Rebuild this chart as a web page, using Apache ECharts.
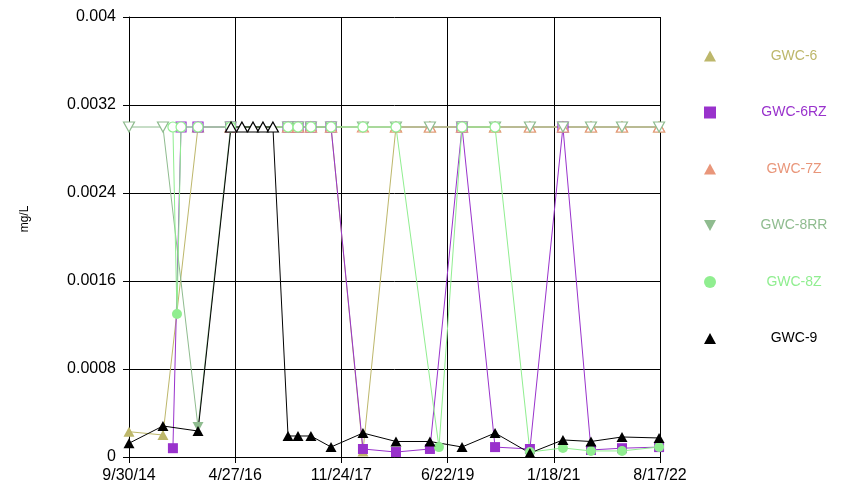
<!DOCTYPE html>
<html><head><meta charset="utf-8">
<script src="https://cdn.jsdelivr.net/npm/echarts@6.0.0/dist/echarts.min.js"></script>
<style>html,body{margin:0;padding:0;background:#fff}#c{width:852px;height:491px}</style>
</head><body><div id="c"></div>
<script>
// Axis definitions
const xStartDate = '2014-09-30';
const xEndDate = '2022-08-17';
const xTickCount = 5;
const yTicks = [0, 0.0008, 0.0016, 0.0024, 0.0032, 0.004];

// Series data (mg/L); 0.003 values plotted as open markers (non-detects)
const gwc6Dates = ['2014-09-30','2015-04-02','2015-10-09','2016-04-03','2017-02-08','2017-04-03','2017-06-12','2017-09-29','2018-03-21','2018-09-16','2019-03-19','2019-09-09','2020-03-06','2020-09-11','2021-03-09','2021-08-08','2022-01-23','2022-08-12'];
const gwc6Values = [0.00023,0.0002,0.003,0.003,0.003,0.003,0.003,0.003,0.00005,0.003,0.003,0.003,0.003,0.003,0.003,0.003,0.003,0.003];

const gwc6rzDates = ['2015-05-26','2015-07-09','2015-10-09','2016-04-03','2017-02-08','2017-04-03','2017-06-12','2017-09-29','2018-03-21','2018-09-16','2019-03-19','2019-09-09','2020-03-06','2020-09-11','2021-03-09','2021-08-08','2022-01-23','2022-08-12'];
const gwc6rzValues = [0.00008,0.003,0.003,0.003,0.003,0.003,0.003,0.003,0.000073,0.000045,0.000073,0.003,0.00009,0.000073,0.003,0.000064,0.00008,0.00009];

const gwc7zDates = ['2016-04-03','2017-02-08','2017-04-03','2017-06-12','2017-09-29','2018-03-21','2018-09-16','2019-03-19','2019-09-09','2020-03-06','2020-09-11','2021-03-09','2021-08-08','2022-01-23','2022-08-12'];
const gwc7zValues = [0.003,0.003,0.003,0.003,0.003,0.003,0.003,0.003,0.003,0.003,0.003,0.003,0.003,0.003,0.003];

const gwc8rrDates = ['2014-09-30','2015-04-02','2015-10-09','2016-04-03','2017-02-08','2017-04-03','2017-06-12','2017-09-29','2018-03-21','2018-09-16','2019-03-19','2019-09-09','2020-03-06','2020-09-11','2021-03-09','2021-08-08','2022-01-23','2022-08-12'];
const gwc8rrValues = [0.003,0.003,0.000273,0.003,0.003,0.003,0.003,0.003,0.003,0.003,0.003,0.003,0.003,0.003,0.003,0.003,0.003,0.003];

const gwc8zDates = ['2015-05-26','2015-06-17','2015-07-09','2015-10-09','2016-04-03','2017-02-08','2017-04-03','2017-06-12','2017-09-29','2018-03-21','2018-09-16','2019-05-07','2019-09-09','2020-03-06','2020-09-11','2021-03-09','2021-08-08','2022-01-23','2022-08-12'];
const gwc8zValues = [0.003,0.0013,0.003,0.003,0.003,0.003,0.003,0.003,0.003,0.003,0.003,0.00009,0.003,0.003,0.000045,0.000082,0.000055,0.000055,0.000091];

const gwc9Dates = ['2014-09-30','2015-04-02','2015-10-09','2016-04-05','2016-06-03','2016-08-02','2016-09-25','2016-11-18','2017-02-08','2017-04-03','2017-06-12','2017-09-29','2018-03-21','2018-09-16','2019-03-19','2019-09-09','2020-03-06','2020-09-11','2021-03-09','2021-08-08','2022-01-23','2022-08-12'];
const gwc9Values = [0.000125,0.000282,0.000236,0.003,0.003,0.003,0.003,0.003,0.000191,0.000191,0.000191,0.000091,0.000218,0.000141,0.000141,0.000091,0.000218,0.000036,0.000155,0.000141,0.000182,0.000173];

const seriesNames = ['GWC-6','GWC-6RZ','GWC-7Z','GWC-8RR','GWC-8Z','GWC-9'];

// ---- build ----
const DAY = 86400000;
const base = Date.parse(xStartDate + 'T00:00:00Z');
const off = d => (Date.parse(d + 'T00:00:00Z') - base) / DAY;
const xMax = off(xEndDate);
const xInterval = xMax / xTickCount;

const colors = ['#BDB76B','#9932CC','#E9967A','#8FBC8F','#90EE90','#000000'];
const downTri = 'path://M0,0L10,0L5,9Z';
const upTri = 'path://M5,0L10,9L0,9Z';
const symbols = ['triangle','rect','triangle','triangle','circle','triangle'];
const rotates = [0,0,0,180,0,0];
const sizes = [[11,10],[10,10],[11,10],[11,10],[10,10],[11,10]];
const legendIcons = [upTri,'rect',upTri,downTri,'circle',upTri];
const allDates = [gwc6Dates,gwc6rzDates,gwc7zDates,gwc8rrDates,gwc8zDates,gwc9Dates];
const allValues = [gwc6Values,gwc6rzValues,gwc7zValues,gwc8rrValues,gwc8zValues,gwc9Values];

const series = seriesNames.map((name, k) => {
  const c = colors[k];
  return {
    name, type: 'line', color: c,
    symbol: symbols[k], symbolSize: sizes[k], symbolRotate: rotates[k],
    showAllSymbol: true,
    lineStyle: { width: 1, color: c },
    itemStyle: { color: c },
    emphasis: { disabled: true },
    animation: false,
    data: allDates[k].map((d, i) => {
      const v = allValues[k][i];
      const open = v >= 0.003;
      return { value: [off(d), v], itemStyle: open ? { color: '#fff', borderColor: c, borderWidth: 1.2 } : { color: c, borderColor: c, borderWidth: 0 } };
    })
  };
});

const rich = {};
seriesNames.forEach((n, k) => { rich['c' + k] = { width: 146, align: 'center', color: colors[k], fontSize: 14, lineHeight: 14, fontFamily: 'Liberation Sans, Arial, sans-serif' }; });

const fmtDate = v => {
  const dt = new Date(base + v * DAY + 1000);
  return (dt.getUTCMonth() + 1) + '/' + dt.getUTCDate() + '/' + String(dt.getUTCFullYear()).slice(2);
};

const chart = echarts.init(document.getElementById('c'), null, { renderer: 'canvas' });
chart.setOption({
  backgroundColor: '#fff',
  animation: false,
  textStyle: { fontFamily: 'Liberation Sans, Arial, sans-serif' },
  grid: { left: 129, right: 192, top: 17, bottom: 34, containLabel: false, outerBoundsMode: 'none' },
  legend: {
    orient: 'vertical', left: 699, top: 44,
    itemWidth: 12, itemHeight: 12, itemGap: 42.5,
    selectedMode: false,
    formatter: n => '{c' + seriesNames.indexOf(n) + '|' + n + '}',
    textStyle: { rich },
    data: seriesNames.map((n, k) => ({ name: n, icon: legendIcons[k], itemStyle: { color: colors[k], borderWidth: 0 } }))
  },
  xAxis: {
    type: 'value', min: 0, max: xMax, interval: xInterval,
    axisLine: { onZero: false, lineStyle: { color: '#000', width: 1 } },
    axisTick: { show: true, inside: false, length: 6, lineStyle: { color: '#000' } },
    splitLine: { show: true, lineStyle: { color: '#000', width: 1 } },
    axisLabel: { formatter: fmtDate, color: '#000', fontSize: 16, margin: 11, showMinLabel: true, showMaxLabel: true }
  },
  yAxis: {
    type: 'value', min: yTicks[0], max: yTicks[yTicks.length - 1], interval: yTicks[1] - yTicks[0],
    name: 'mg/L', nameLocation: 'middle', nameGap: 98,
    nameTextStyle: { color: '#000', fontSize: 12, padding: [0, 0, 0, 36] },
    axisLine: { show: true, lineStyle: { color: '#000', width: 1 } },
    axisTick: { show: true, inside: false, length: 6, lineStyle: { color: '#000' } },
    splitLine: { show: true, lineStyle: { color: '#000', width: 1 } },
    axisLabel: { color: '#000', fontSize: 16, margin: 13, formatter: v => String(parseFloat(v.toPrecision(6))) }
  },
  series
});
</script>
</body></html>
